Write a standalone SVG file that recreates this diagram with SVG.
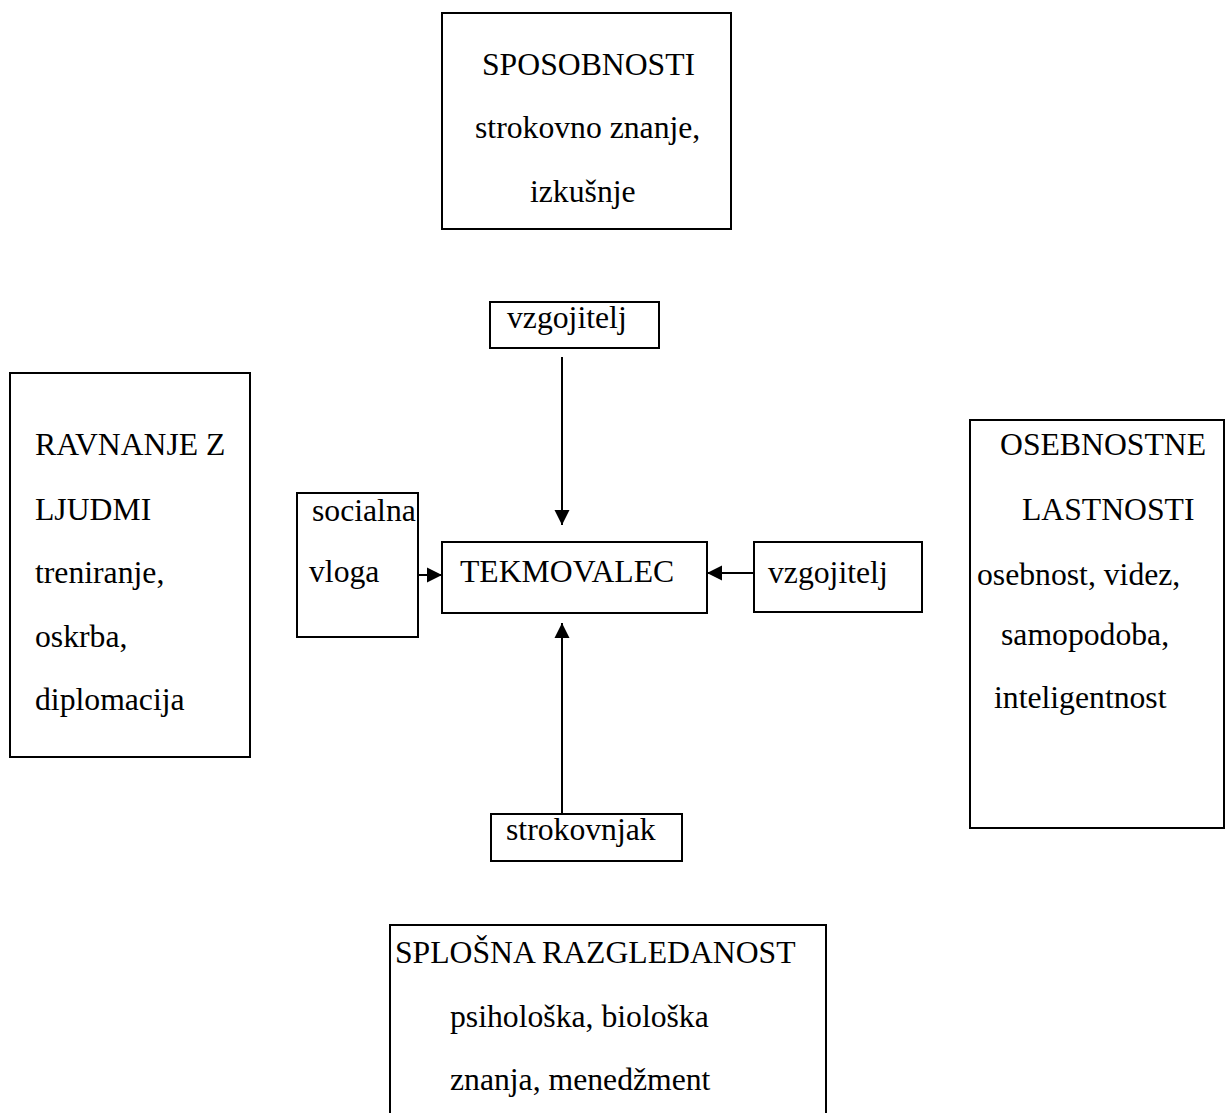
<svg xmlns="http://www.w3.org/2000/svg" width="1225" height="1113" viewBox="0 0 1225 1113">
<defs>
<style>
.box{fill:#fff;stroke:#000;stroke-width:2}
.t{font-family:"Liberation Serif","Times New Roman",serif;font-size:31.7px;fill:#000}
.c{stroke:#000;stroke-width:2;fill:none}
</style>
<marker id="ah" markerUnits="userSpaceOnUse" markerWidth="16" markerHeight="16" refX="15" refY="8" orient="auto">
<path d="M0,0.5 L15,8 L0,15.5 z" fill="#000"/>
</marker>
</defs>
<rect width="1225" height="1113" fill="#fff"/>
<g id="sposobnosti">
<rect class="box" x="442" y="13" width="289" height="216"/>
<text class="t" x="482" y="75">SPOSOBNOSTI</text>
<text class="t" x="475" y="138">strokovno znanje,</text>
<text class="t" x="530" y="202">izkušnje</text>
</g>
<g id="ravnanje">
<rect class="box" x="10" y="373" width="240" height="384"/>
<text class="t" x="35" y="455">RAVNANJE Z</text>
<text class="t" x="35" y="520">LJUDMI</text>
<text class="t" x="35" y="583">treniranje,</text>
<text class="t" x="35" y="647">oskrba,</text>
<text class="t" x="35" y="710">diplomacija</text>
</g>
<g id="osebnostne">
<rect class="box" x="970" y="420" width="254" height="408"/>
<text class="t" x="1000" y="455">OSEBNOSTNE</text>
<text class="t" x="1022" y="520">LASTNOSTI</text>
<text class="t" x="977" y="585">osebnost, videz,</text>
<text class="t" x="1001" y="645">samopodoba,</text>
<text class="t" x="994" y="708">inteligentnost</text>
</g>
<g id="vzgojitelj-top">
<rect class="box" x="490" y="302" width="169" height="46"/>
<text class="t" x="507" y="328">vzgojitelj</text>
</g>
<g id="socialna">
<rect class="box" x="297" y="493" width="121" height="144"/>
<text class="t" x="312" y="521">socialna</text>
<text class="t" x="309" y="582">vloga</text>
</g>
<g id="tekmovalec">
<rect class="box" x="442" y="542" width="265" height="71"/>
<text class="t" x="460" y="582">TEKMOVALEC</text>
</g>
<g id="vzgojitelj-right">
<rect class="box" x="754" y="542" width="168" height="70"/>
<text class="t" x="768" y="583">vzgojitelj</text>
</g>
<g id="strokovnjak">
<rect class="box" x="491" y="814" width="191" height="47"/>
<text class="t" x="506" y="840">strokovnjak</text>
</g>
<g id="splosna">
<rect class="box" x="390" y="925" width="436" height="200"/>
<text class="t" x="395" y="963">SPLOŠNA RAZGLEDANOST</text>
<text class="t" x="450" y="1027">psihološka, biološka</text>
<text class="t" x="450" y="1090">znanja, menedžment</text>
</g>
<g id="connectors">
<line class="c" x1="562" y1="357" x2="562" y2="525" marker-end="url(#ah)"/>
<line class="c" x1="562" y1="814" x2="562" y2="623" marker-end="url(#ah)"/>
<line class="c" x1="418" y1="575" x2="442" y2="575" marker-end="url(#ah)"/>
<line class="c" x1="754" y1="573" x2="707" y2="573" marker-end="url(#ah)"/>
</g>
</svg>
